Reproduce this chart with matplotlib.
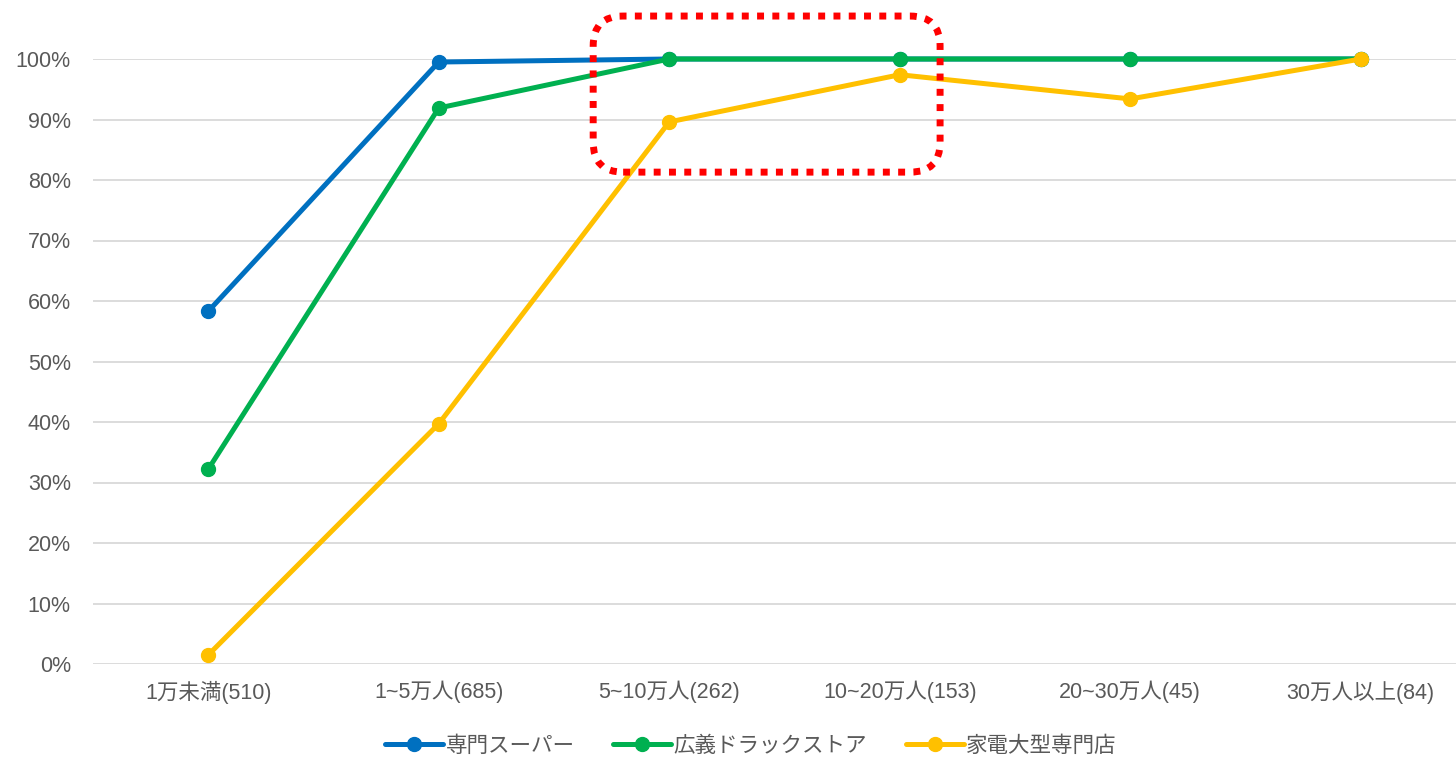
import matplotlib.pyplot as plt
from matplotlib.patches import FancyBboxPatch
from matplotlib.ticker import PercentFormatter

plt.rcParams['font.family'] = ['Liberation Sans', 'Noto Sans CJK JP', 'DejaVu Sans']

# data
categories = ['1万未満(510)', '1~5万人(685)', '5~10万人(262)',
              '10~20万人(153)', '20~30万人(45)', '30万人以上(84)']
senmon_super = [0.583, 0.995, 1.0, 1.0, 1.0, 1.0]
drugstore = [0.322, 0.919, 1.0, 1.0, 1.0, 1.0]
kaden = [0.015, 0.397, 0.896, 0.974, 0.934, 1.0]
series_names = ['専門スーパー', '広義ドラックストア', '家電大型専門店']
colors = ['#0070c0', '#00b050', '#ffc000']

W, H = 1456, 758
fig = plt.figure(figsize=(W / 100, H / 100), dpi=100)
left, right, bottom, top = 93, 1476, 664, 59
ax = fig.add_axes([left / W, 1 - bottom / H, (right - left) / W, (bottom - top) / H])

x = range(len(categories))
for vals, name, c in zip([senmon_super, drugstore, kaden], series_names, colors):
    ax.plot(x, vals, color=c, lw=3.6, marker='o', ms=10, label=name,
            clip_on=False, solid_capstyle='round')

ax.set_xlim(-0.5, len(categories) - 0.5)
ax.set_ylim(0, 1)
ax.set_yticks([i / 10 for i in range(11)])
ax.yaxis.set_major_formatter(PercentFormatter(1.0, decimals=0))
ax.set_xticks(list(x))
ax.set_xticklabels(categories)
ax.grid(axis='y', color='#d9d9d9', lw=1.3)
ax.set_axisbelow(True)
for s in ax.spines.values():
    s.set_visible(False)
ax.tick_params(length=0, labelsize=15.5, colors='#595959')
ax.tick_params(axis='y', pad=16)
ax.tick_params(axis='x', pad=12)

# highlight box around 5~10万人 .. 10~20万人
box = FancyBboxPatch((1.67, 0.813), 1.505, 0.258,
                     boxstyle='round,pad=0,rounding_size=0.13',
                     mutation_aspect=0.38,
                     fill=False, edgecolor='#ff0000', lw=5,
                     linestyle=(0, (1, 1.2)), clip_on=False, zorder=5)
ax.add_patch(box)

leg = ax.legend(loc='center', bbox_to_anchor=(751 / W, 1 - 746 / H),
                bbox_transform=fig.transFigure, ncol=3, frameon=False,
                fontsize=15.5, handlelength=2.7, columnspacing=1.8,
                handletextpad=0.1)
for t in leg.get_texts():
    t.set_color('#595959')

fig.savefig('out.png', dpi=100)
